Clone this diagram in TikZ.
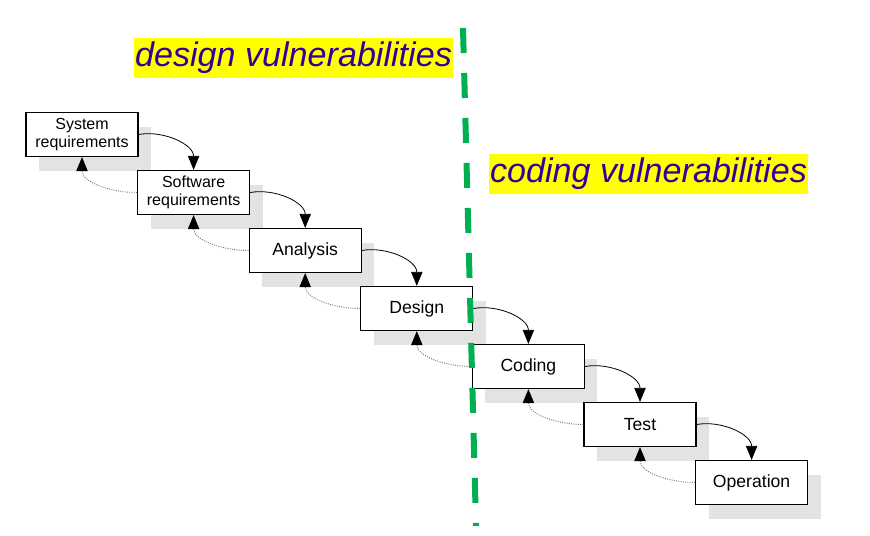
\documentclass[tikz,border=0pt]{standalone}
\usepackage{fontspec}
\setmainfont{Liberation Sans}
\usetikzlibrary{positioning, arrows.meta, shadows}
\definecolor{vulnblue}{RGB}{51,0,153}
\definecolor{vulnyellow}{RGB}{255,255,0}
\definecolor{divgreen}{RGB}{0,176,80}

\begin{document}
\begin{tikzpicture}[x=0.75pt, y=0.75pt,
	phase/.style={draw, fill=white, line width=0.9pt, minimum width=84pt, minimum height=33pt, inner sep=0pt, align=center,
		font=\fontsize{13.2}{14}\selectfont,
		drop shadow={shadow xshift=9.75pt, shadow yshift=-10.5pt, fill=black!11, draw=none, opacity=1}},
	twoline/.style={font=\fontsize{12}{13.5}\selectfont},
	banner/.style={fill=vulnyellow, text=vulnblue, minimum width=239.25pt, minimum height=30pt, inner sep=0pt,
		font=\fontsize{25.6}{30}\selectfont\itshape},
	forward/.style={-{Triangle[length=10.5pt, width=8.5pt]}, line width=0.6pt},
	backward/.style={-{Triangle[length=10.5pt, width=8.5pt, color=black, fill=black]}, color=black!55, densely dotted, line width=0.7pt}]
				\useasboundingbox (0,0) rectangle (870,-535);

				\node[banner] (designvuln) at (293.5,-58) {design vulnerabilities};
				\node[banner] (codingvuln) at (648.5,-173.5) {coding vulnerabilities};

				\node[phase, twoline] (sysreq) at (82,-134.5) {System\\requirements};
				\node[phase, twoline] (swreq) at (193.6,-192.5) {Software\\requirements};
				\node[phase] (analysis) at (305.2,-250.5) {Analysis};
				\node[phase] (design) at (416.8,-308.5) {Design};
				\node[phase] (coding) at (528.4,-366.5) {Coding};
				\node[phase] (test) at (640,-424.5) {Test};
				\node[phase] (operation) at (751.6,-482.5) {Operation};

				\path[forward]
				(sysreq.east) edge[out=10, in=90] (swreq.north)
				(swreq.east) edge[out=10, in=90] (analysis.north)
				(analysis.east) edge[out=10, in=90] (design.north)
				(design.east) edge[out=10, in=90] (coding.north)
				(coding.east) edge[out=10, in=90] (test.north)
				(test.east) edge[out=10, in=90] (operation.north);

				\path[backward]
				(swreq.west) edge[out=180, in=-90] (sysreq.south)
				(analysis.west) edge[out=180, in=-90] (swreq.south)
				(design.west) edge[out=180, in=-90] (analysis.south)
				(coding.west) edge[out=180, in=-90] (design.south)
				(test.west) edge[out=180, in=-90] (coding.south)
				(operation.west) edge[out=180, in=-90] (test.south);

				% boundary between the two kinds of flaws
				\coordinate (divtop) at (463,-28);
				\coordinate (divbottom) at (476,-526);
				\draw[divgreen, line width=4.5pt, dash pattern=on 18.75pt off 15pt] (divtop) -- (divbottom);
			\end{tikzpicture}
\end{document}
